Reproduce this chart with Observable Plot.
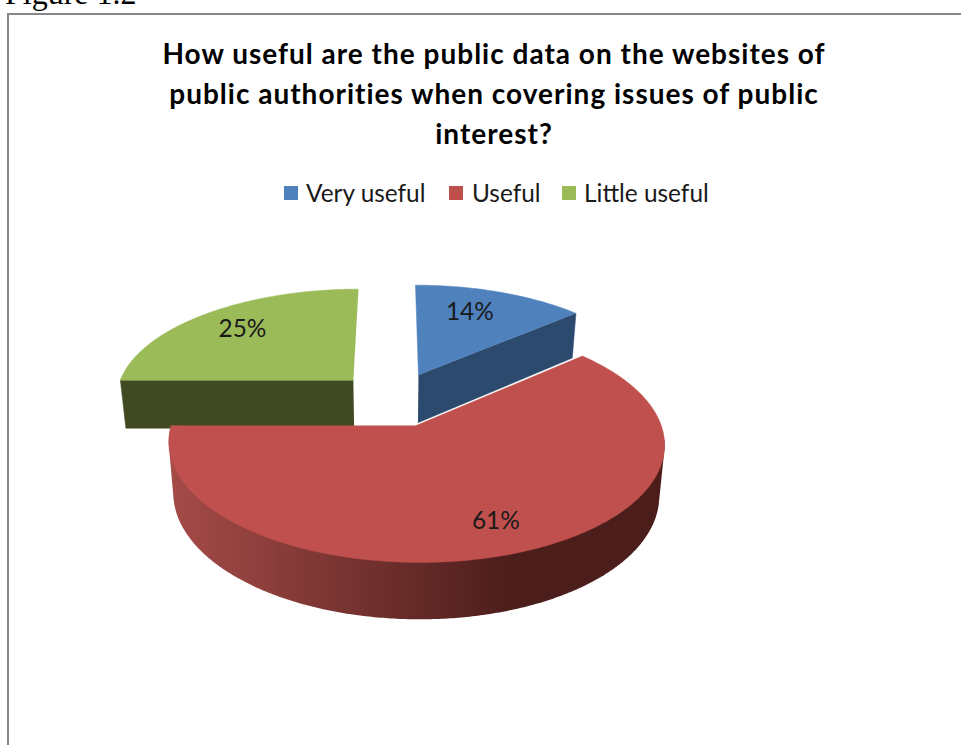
<!DOCTYPE html>
<html><head><meta charset="utf-8">
<script src="https://cdn.jsdelivr.net/npm/d3@7"></script>
<script src="https://cdn.jsdelivr.net/npm/@observablehq/plot@0.6"></script>
<style>
html,body{margin:0;padding:0;background:#fff;overflow:hidden;width:961px;height:745px}
#fig{position:absolute;left:5px;top:-25px;font:32px/36px "Liberation Serif",serif;color:#000}
#frame{position:absolute;left:7px;top:13px;width:970px;height:800px;border:2px solid #868686;box-sizing:border-box}
#chart{position:absolute;left:0;top:0}
#title{position:absolute;left:94px;width:800px;top:33px;text-align:center;font:bold 28px/40px Lato,sans-serif;letter-spacing:1px;color:#000}
.lg{position:absolute;top:178px;font:24.4px/30px Lato,sans-serif;color:#1a1a1a;white-space:nowrap}
.sw{position:absolute;top:186px;width:14px;height:14px}
</style></head><body>
<div id="fig">Figure 1.2</div>
<div id="frame"></div>
<div id="chart"></div>
<div id="title">How useful are the public data on the websites of<br>public authorities when covering issues of public<br>interest?</div>
<script>
const categories = ["Very useful", "Useful", "Little useful"];
const values = [13.6, 61.4, 25];
const topColors = ["#4f81bd", "#c0504d", "#9bbb59"];
const sideColors = ["#2c4a6e", "url(#redWall)", "#404a22"];
const legendSwatchX = [284, 449, 562];
const legendTextX = [306, 472, 584];
const labelNudgeX = [-12, 5, 1];
const labelNudgeY = [1, 4, 0];
const labelRadius = 0.75;
const sliceRadius = [1, 0.99, 1];

// perspective model of the exploded pie
const cx = 394, y0 = 398.5, B = 239, A = 109.5, p = 0.147, explode = 0.25, depth = 49, shrink = 0.98;

const total = d3.sum(values);
let acc = 0;
const slices = categories.map((c, i) => {
  const a0 = acc / total * 2 * Math.PI; acc += values[i];
  const a1 = acc / total * 2 * Math.PI;
  const m = (a0 + a1) / 2;
  return {c, i, a0, a1, r: sliceRadius[i], ox: explode * Math.sin(m), oy: explode * Math.cos(m)};
});
function proj(s, ang, r, bottom) {
  const rr = r * s.r;
  const X = s.ox + rr * Math.sin(ang), Y = s.oy + rr * Math.cos(ang), d = 1 + p * Y;
  let x = cx + B * X / d, y = y0 - A * Y / d;
  if (bottom) { x = cx + (x - cx) * shrink; y += depth / Math.pow(d, 0.75); }
  return {x, y};
}
function poly(target, key, color, list) { list.forEach(q => target.push({x: q.x, y: q.y, key, color})); }
function arc(s, a0, a1, bottom) {
  const n = Math.max(2, Math.ceil(Math.abs(a1 - a0) / 0.01)), out = [];
  for (let k = 0; k <= n; k++) out.push(proj(s, a0 + (a1 - a0) * k / n, 1, bottom));
  return out;
}
const [blue, red, green] = slices;
const faces = [];
poly(faces, "g-wall", sideColors[2], [proj(green, green.a1, 0), proj(green, green.a0, 1), proj(green, green.a0, 1, true), proj(green, green.a1, 0, true)]);
poly(faces, "g-top", topColors[2], [proj(green, 0, 0), ...arc(green, green.a0, green.a1)]);
poly(faces, "b-wall", sideColors[0], [proj(blue, 0, 0), proj(blue, blue.a1, 1), proj(blue, blue.a1, 1, true), proj(blue, 0, 0, true)]);
poly(faces, "b-top", topColors[0], [proj(blue, 0, 0), ...arc(blue, blue.a0, blue.a1)]);
// the curved wall is the sweep of the front of the rim from the top face to the bottom face
const frontFrom = 97 * Math.PI / 180;
const wallPoints = [...arc(red, frontFrom, red.a1), ...arc(red, frontFrom, red.a1, true)].map(q => [q.x, q.y]);
const redWall = d3.polygonHull(wallPoints).map(([x, y]) => ({x, y}));
const redTop = [proj(red, 0, 0), ...arc(red, red.a0, red.a1)];

const labels = slices.map((s, i) => {
  const q = proj(s, (s.a0 + s.a1) / 2, labelRadius);
  return {x: q.x + labelNudgeX[i], y: q.y + labelNudgeY[i], text: Math.round(values[i]) + "%"};
});

// left-to-right shading of the curved wall
function wallGradient() {
  const ns = "http://www.w3.org/2000/svg";
  const defs = document.createElementNS(ns, "defs");
  const g = document.createElementNS(ns, "linearGradient");
  g.setAttribute("id", "redWall");
  g.setAttribute("gradientUnits", "userSpaceOnUse");
  g.setAttribute("x1", 170); g.setAttribute("x2", 515); g.setAttribute("y1", 0); g.setAttribute("y2", 0);
  [["0", "#a54b48"], ["1", "#4b1d1b"]].forEach(([o, c]) => {
    const st = document.createElementNS(ns, "stop");
    st.setAttribute("offset", o); st.setAttribute("stop-color", c);
    g.appendChild(st);
  });
  defs.appendChild(g);
  return defs;
}

const chart = Plot.plot({
  width: 961, height: 745, margin: 0,
  x: {type: "linear", domain: [0, 961], range: [0, 961], axis: null},
  y: {type: "linear", domain: [0, 745], range: [0, 745], axis: null},
  color: {type: "identity"},
  style: {background: "transparent", overflow: "visible"},
  marks: [
    wallGradient,
    Plot.line(faces, {x: "x", y: "y", z: "key", fill: "color", stroke: "color", strokeWidth: 0.5, curve: "linear"}),
    Plot.line(redWall, {x: "x", y: "y", fill: sideColors[1], stroke: "none", curve: "linear"}),
    Plot.line(redTop, {x: "x", y: "y", fill: topColors[1], stroke: topColors[1], strokeWidth: 0.5, curve: "linear"}),
    Plot.text(labels, {x: "x", y: "y", text: "text", fontSize: 24.4, fontFamily: "Lato, sans-serif", fill: "#1a1a1a"})
  ]
});
document.getElementById("chart").appendChild(chart);

categories.forEach((c, i) => {
  const sw = document.createElement("div");
  sw.className = "sw"; sw.style.left = legendSwatchX[i] + "px"; sw.style.background = topColors[i];
  document.body.appendChild(sw);
  const t = document.createElement("div");
  t.className = "lg"; t.style.left = legendTextX[i] + "px"; t.textContent = c;
  document.body.appendChild(t);
});
</script>
</body></html>
